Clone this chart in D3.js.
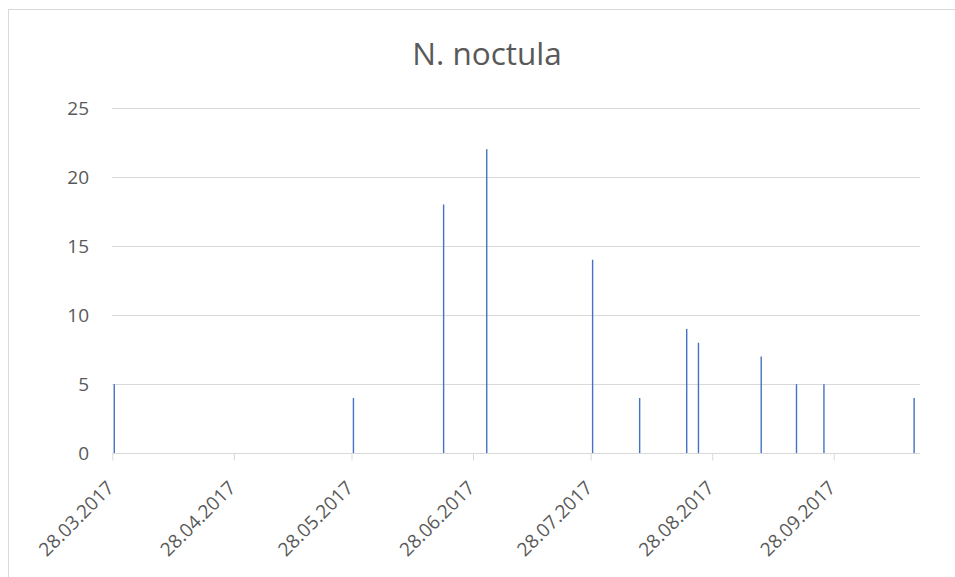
<!DOCTYPE html>
<html>
<head>
<meta charset="utf-8">
<script src="https://cdn.jsdelivr.net/npm/d3@7"></script>
<style>
  body { margin: 0; background: #fff; }
  svg { display: block; font-family: "Open Sans", sans-serif; }
</style>
</head>
<body>
<div id="chart"></div>
<script>
'use strict';

// observation dates and counts
var dates = ['2017-03-28', '2017-05-28', '2017-06-20', '2017-07-01', '2017-07-28', '2017-08-09',
             '2017-08-21', '2017-08-24', '2017-09-09', '2017-09-18', '2017-09-25', '2017-10-18'];
var counts = [5, 4, 18, 22, 14, 4, 9, 8, 7, 5, 5, 4];
var tickDates = ['2017-03-28', '2017-04-28', '2017-05-28', '2017-06-28', '2017-07-28', '2017-08-28', '2017-09-28'];
var yTicks = [0, 5, 10, 15, 20, 25];
var title = 'N. noctula';

var width = 955, height = 577;
var plotLeft = 112.3, plotRight = 920, plotTop = 107.7, plotBottom = 453.3;

var parse = d3.utcParse('%Y-%m-%d');
var fmt = d3.utcFormat('%d.%m.%Y');
var DAY = 864e5;

var svg = d3.select('#chart').append('svg')
    .attr('width', width)
    .attr('height', height);

svg.append('rect')
    .attr('width', width).attr('height', height)
    .attr('fill', '#fff');

// chart border (runs off the right and bottom edge)
svg.append('rect')
    .attr('x', 8.5).attr('y', 9.5)
    .attr('width', 980).attr('height', 620)
    .attr('fill', 'none')
    .attr('stroke', '#d9d9d9');

var x = d3.scaleUtc()
    .domain([parse('2017-03-28'), parse('2017-10-20')])
    .range([plotLeft, plotRight]);

var y = d3.scaleLinear()
    .domain([0, 25])
    .range([plotBottom, plotTop]);

// gridlines
svg.append('g').selectAll('line')
    .data(yTicks.filter(function(d) { return d > 0; }))
    .enter().append('line')
    .attr('x1', plotLeft).attr('x2', plotRight)
    .attr('y1', function(d) { return Math.round(y(d)) + 0.5; })
    .attr('y2', function(d) { return Math.round(y(d)) + 0.5; })
    .attr('stroke', '#d9d9d9')
    .attr('stroke-width', 1);

// y labels
svg.append('g').selectAll('text')
    .data(yTicks)
    .enter().append('text')
    .attr('x', 89)
    .attr('y', function(d) { return y(d) + 6.8; })
    .attr('text-anchor', 'end')
    .attr('font-size', 19)
    .attr('fill', '#595959')
    .text(function(d) { return d; });

// bars, centred in their day slot
var data = dates.map(function(d, i) { return { date: parse(d), value: counts[i] }; });

svg.append('g').selectAll('rect')
    .data(data)
    .enter().append('rect')
    .attr('x', function(d) { return x(new Date(+d.date + DAY / 2)) - 0.7; })
    .attr('width', 1.4)
    .attr('y', function(d) { return y(d.value); })
    .attr('height', function(d) { return y(0) - y(d.value); })
    .attr('fill', '#4472c4');

// x axis line and ticks
var xAxis = d3.axisBottom(x)
    .tickValues(tickDates.map(parse))
    .tickSize(7)
    .tickFormat('');

var gx = svg.append('g')
    .attr('transform', 'translate(0,' + (Math.round(plotBottom) + 0.5) + ')')
    .call(xAxis);
gx.select('.domain').attr('stroke', '#d9d9d9').attr('d', 'M' + plotLeft + ',0H' + plotRight);
gx.selectAll('.tick line').attr('stroke', '#d9d9d9');

// rotated date labels
svg.append('g').selectAll('text')
    .data(tickDates.map(parse))
    .enter().append('text')
    .attr('transform', function(d) { return 'translate(' + (x(d) + 3) + ',489) rotate(-45)'; })
    .attr('text-anchor', 'end')
    .attr('font-size', 19)
    .attr('fill', '#595959')
    .text(function(d) { return fmt(d); });

svg.append('text')
    .attr('x', 487)
    .attr('y', 65)
    .attr('text-anchor', 'middle')
    .attr('font-size', 31.5)
    .attr('fill', '#595959')
    .text(title);
</script>
</body>
</html>
